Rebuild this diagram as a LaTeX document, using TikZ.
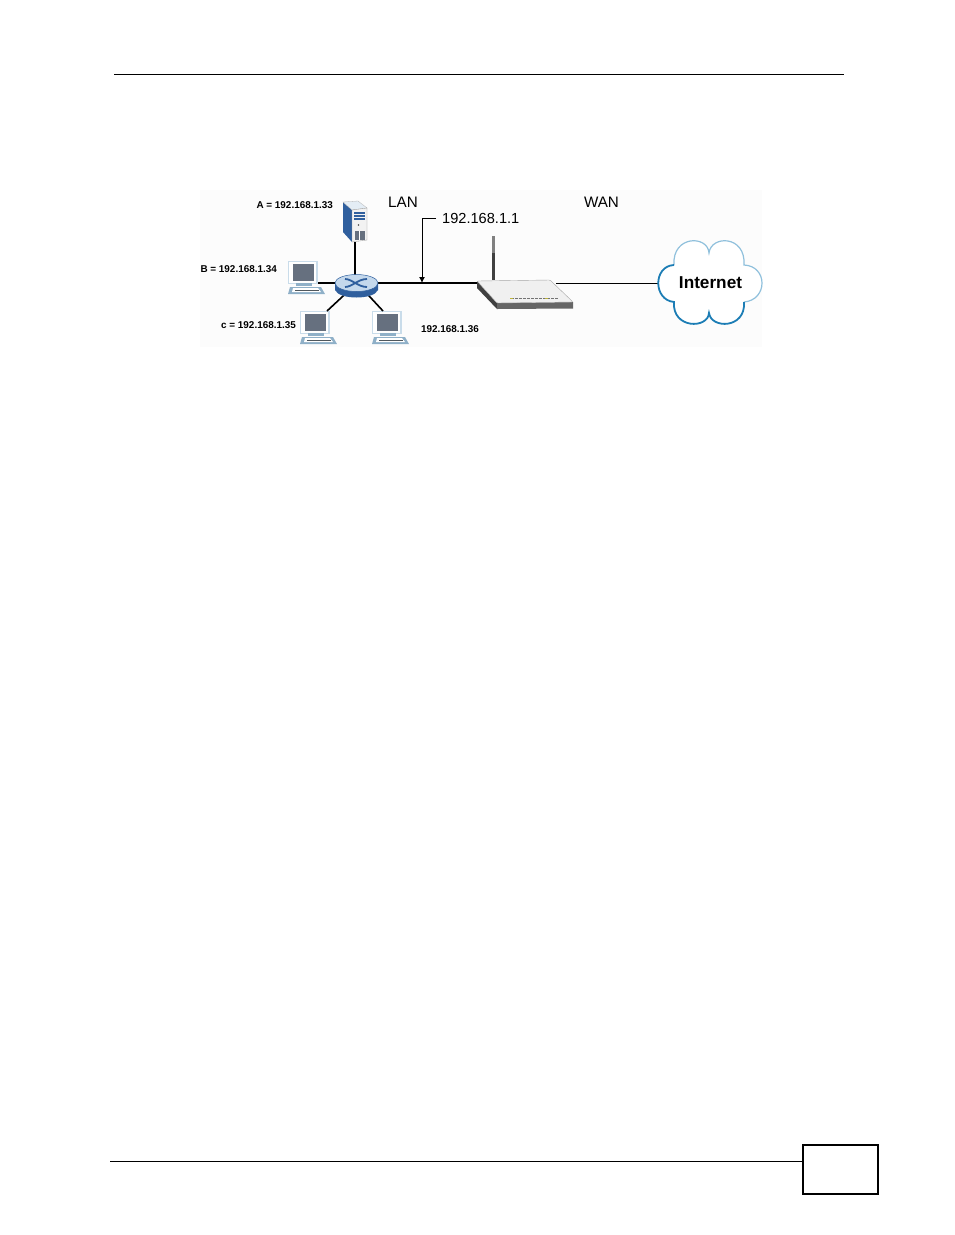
\documentclass[tikz,border=0pt]{standalone}
\usepackage{fontspec}
\setmainfont{Liberation Sans}
\usetikzlibrary{arrows.meta,positioning,shapes.geometric}
\definecolor{screengray}{HTML}{66707F}
\definecolor{pcblue}{HTML}{C9DCEA}
\definecolor{keyblue}{HTML}{8FB0C8}
\definecolor{hubblue}{HTML}{C4D8EC}
\definecolor{serverblue}{HTML}{2F5F9E}
\definecolor{cloudlight}{HTML}{8FC0DC}
\definecolor{clouddark}{HTML}{1C7DB5}
\tikzset{
  rule/.style={draw=black,line width=0.8pt},
  wire/.style={draw=black,line width=1.6pt},
  ghost/.style={inner sep=0pt,outer sep=0pt},
  iplabel/.style={inner sep=0pt,font=\fontsize{9.9}{12}\selectfont\bfseries},
  netlabel/.style={inner sep=0pt,font=\fontsize{15.2}{18}\selectfont},
  pc/.pic={
    \node[ghost,minimum width=30pt,minimum height=24pt] (monitor) at (15,12) {};
    \fill[pcblue] (0,0) rectangle (30,23);
    \fill[white] (1,1) rectangle (28,22);
    \fill[screengray] (5,2.5) rectangle (26,20);
    \fill[keyblue] (8,22) rectangle (24,25);
    \fill[keyblue] (2,26) -- (33,26) -- (37,33) -- (0,33) -- cycle;
    \fill[white] (5,27) -- (30,27) -- (33,31) -- (4,31) -- cycle;
    \draw[pcblue!40!black,line width=0.5pt] (7,29) -- (31,29);
  },
}
\begin{document}
\begin{tikzpicture}[x=1pt,y=-1pt]
\useasboundingbox (0,0) rectangle (954,1235);
\fill[black!1] (200,190) rectangle (762,347);
% page furniture
\coordinate (head-l) at (114,74);
\coordinate (head-r) at (844,74);
\draw[rule] (head-l) -- (head-r);
\node[ghost,draw=black,line width=2pt,minimum width=75pt,minimum height=49pt] (pagebox) at (840,1169.5) {};
\coordinate (foot-l) at (110,1161);
\draw[rule] (foot-l) -- (foot-l -| pagebox.west);
% nodes that carry the wires
\node[ghost,ellipse,minimum width=43pt,minimum height=17pt] (hub) at (356.5,283) {};
\node[ghost,minimum width=24pt,minimum height=40pt] (server) at (355,222) {};
\node[ghost,minimum width=96pt,minimum height=6pt] (router) at (525,283) {};
\node[ghost,minimum width=105pt,minimum height=84pt] (cloud) at (710.5,283) {};
\coordinate (wan-end) at (556,283);
\coordinate (ip-corner) at (422,218);
% wires
\draw[wire] (server.south) -- (server.south |- hub.north);
\draw[wire] (hub.east) -- (router.west);
\draw[line width=1pt] (wan-end) -- (cloud.west);
% router
\fill[black!75] (477,281) -- (497,303) -- (497,309) -- (477,288) -- cycle;
\fill[black!60] (497,303) -- (573,302) -- (573,308.5) -- (497,309) -- cycle;
\fill[black!6,draw=black!35,line width=0.4pt,rounded corners=1pt] (477,281) -- (550,280) -- (573,302) -- (497,303) -- cycle;
\fill[black!50] (492,236) rectangle (494.5,262);
\fill[black!75] (491.5,253) rectangle (495,280);
\foreach \xled in {511,515,...,555} \fill[black!55] (\xled,297.5) rectangle +(2.8,1.4);
\fill[yellow!70!black] (510,297.5) rectangle +(3,1.4);
\fill[yellow!70!black] (545,297.5) rectangle +(3,1.4);
% server
\fill[serverblue] (343,202) -- (352,210) -- (352,242) -- (343,232) -- cycle;
\fill[pcblue!50,draw=black!30,line width=0.3pt] (343,202) -- (358,201) -- (367,208) -- (352,210) -- cycle;
\fill[black!5,draw=black!40,line width=0.3pt] (352,210) -- (367,208) -- (367,240) -- (352,242) -- cycle;
\foreach \yslot in {212,215,218} \fill[serverblue] (354,\yslot) rectangle (365,\yslot+2);
\fill[black!70] (358.5,225) circle (0.8);
\fill[screengray] (355,231) rectangle (365,240);
\fill[white] (359,231) rectangle (360,240);
% pcs
\pic (pcb) at (288,261) {pc};
\pic (pcc) at (300,311) {pc};
\pic (pcd) at (372,311) {pc};
\draw[wire] (hub.west -| pcbmonitor.east) -- (hub.west);
\draw[wire] (hub.225) -- ([xshift=-3pt]pccmonitor.north east);
\draw[wire] (hub.315) -- ([xshift=11pt]pcdmonitor.north west);
% hub
\shade[left color=serverblue,middle color=white,right color=serverblue] (335,283) -- (335,290) .. controls (339,300) and (374,300) .. (378,290) -- (378,283) -- cycle;
\node[ellipse,draw=serverblue,fill=hubblue,line width=0.5pt,minimum width=43pt,minimum height=17pt,inner sep=0pt] at (hub) {};
\draw[serverblue,line width=1.8pt] (345,279) .. controls (352,279) and (358,287) .. (367,287);
\draw[serverblue,line width=1.8pt] (345,287) .. controls (352,287) and (358,279) .. (367,279);
% cloud
\path[fill=white] (674,302) .. controls (653,300) and (653,266) .. (674,265) .. controls (672,235) and (708,235) .. (709,253) .. controls (711,235) and (746,235) .. (744,265) .. controls (768,266) and (768,300) .. (744,302) .. controls (746,329) and (711,329) .. (709,313) .. controls (708,329) and (672,329) .. (674,302) -- cycle;
\draw[cloudlight,line width=1.2pt] (674,265) .. controls (672,235) and (708,235) .. (709,253) .. controls (711,235) and (746,235) .. (744,265) .. controls (768,266) and (768,300) .. (744,302);
\draw[clouddark,line width=1.8pt] (674,265) .. controls (653,266) and (653,300) .. (674,302) .. controls (672,329) and (708,329) .. (709,313) .. controls (711,329) and (746,329) .. (744,302);
\node[inner sep=0pt,font=\fontsize{17.2}{20}\selectfont\bfseries] (internet) at (cloud) {Internet};
% labels
\node[netlabel] (lan) at (403,202) {LAN};
\node[netlabel] (wan) at (601.5,202) {WAN};
\node[inner sep=0pt,anchor=west,font=\fontsize{14.6}{18}\selectfont] (gateway) at (442,218) {192.168.1.1};
\draw[-{Latex[length=6pt,width=6pt]},line width=1pt] ([xshift=-6pt]gateway.west) -- (ip-corner) -- (ip-corner |- hub);
\node[iplabel,anchor=east] (ipa) at (333,205.5) {A = 192.168.1.33};
\node[iplabel,anchor=east] (ipb) at (277,269) {B = 192.168.1.34};
\node[iplabel,anchor=east] (ipc) at (296,325) {c = 192.168.1.35};
\node[iplabel,anchor=west] (ipd) at (421,329.5) {192.168.1.36};
\end{tikzpicture}
\end{document}
